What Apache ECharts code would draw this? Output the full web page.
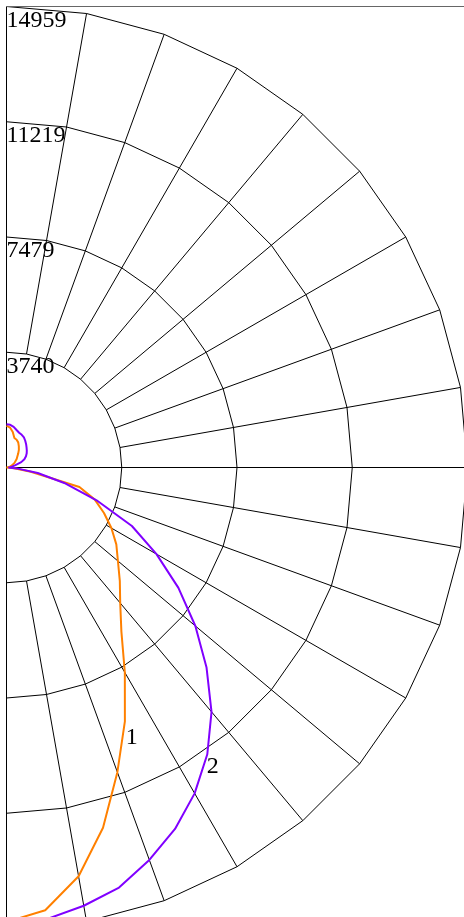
<!DOCTYPE html>
<html><head><meta charset="utf-8">
<script src="https://cdn.jsdelivr.net/npm/echarts@6.0.0/dist/echarts.min.js"></script>
<style>
html,body{margin:0;padding:0;background:#fff;overflow:hidden;width:464px;height:917px}
#c{position:absolute;left:6px;top:0;width:458px;height:917px}
</style>
</head><body><div id="c"></div>
<script>
// gamma angle (0 = downward, 90 = horizontal right, 180 = upward)
const angles = [0,5,10,15,20,25,30,35,40,45,50,55,60,65,70,75,80,85,90,95,100,105,110,115,120,125,130,135,140,145,150,155,160,165,170,175,180];
const series1 = [14750,14420,13470,12100,10520,9090,7680,6500,5740,5200,4720,4350,3930,3490,3050,2450,800,250,0,40,90,130,175,240,300,370,430,480,590,700,800,900,960,990,1170,1300,1360];
const series2 = [14959,14720,14440,14110,13550,12940,12210,11360,10350,9180,8000,6810,5620,4490,3110,1940,1030,330,60,130,200,300,510,640,730,800,860,920,990,1060,1130,1170,1200,1260,1340,1390,1400];
const seriesNames = ['1','2'];
const seriesColors = ['#ff8000','#8000ff'];
const labelRadius = [9660, 11780];
const labelAngle = [24.9, 34.6];
const radiusMax = 14959;
const radiusTickLabels = ['', '3740', '7479', '11219', '14959'];
const spokeStep = 10;

const chart = echarts.init(document.getElementById('c'), null, {renderer:'canvas'});
const CX = 0.5, CY = 467.5, R = 461;
const font = 'Liberation Serif';
const hidden = {axisLine:{show:false}, axisTick:{show:false}, axisLabel:{show:false}, splitLine:{show:false}};

const indicators = [];
for (let i = 0; i < 360 / spokeStep; i++) indicators.push({name:'', min:0, max:radiusMax});

function mkSeries(vals, idx) {
  return {
    type:'line', name: seriesNames[idx], coordinateSystem:'polar', polarIndex:0,
    data: angles.map((a,i)=>[vals[i], a]),
    showSymbol:false, smooth:false, z:3,
    lineStyle:{color:seriesColors[idx], width:2},
    itemStyle:{color:seriesColors[idx]},
    markPoint:{
      symbol:'circle', symbolSize:1,
      itemStyle:{color:'rgba(0,0,0,0)'},
      label:{show:true, position:'inside', formatter:seriesNames[idx], color:'#000', fontSize:24, fontFamily:font},
      data:[{coord:[labelRadius[idx], labelAngle[idx]]}]
    }
  };
}

chart.setOption({
  animation:false,
  textStyle:{fontFamily:font},
  radar:{
    center:[CX, CY], radius:R, startAngle:90, shape:'polygon', splitNumber:4,
    indicator: indicators,
    axisName:{show:false}, axisLine:{show:false}, axisTick:{show:false}, axisLabel:{show:false},
    splitArea:{show:false},
    splitLine:{show:true, lineStyle:{color:'#000', width:1}}
  },
  polar:[
    {center:[CX, CY], radius:[0, R]},
    {center:[CX, CY], radius:[R/4, R]}
  ],
  angleAxis:[
    {polarIndex:0, type:'value', min:-180, max:180, interval:90, startAngle:90, clockwise:false,
     axisLine:{show:false}, axisTick:{show:false}, axisLabel:{show:false},
     splitLine:{show:true, lineStyle:{color:'#000', width:1}}},
    {polarIndex:1, type:'value', min:-180, max:180, interval:spokeStep, startAngle:90, clockwise:false,
     axisLine:{show:false}, axisTick:{show:false}, axisLabel:{show:false},
     splitLine:{show:true, lineStyle:{color:'#000', width:1}}}
  ],
  radiusAxis:[
    {polarIndex:0, type:'value', min:0, max:radiusMax, interval:radiusMax/4,
     axisLine:{show:false}, axisTick:{show:false}, splitLine:{show:false},
     axisLabel:{show:true, margin:0, align:'left', verticalAlign:'top', padding:[2,0,0,0], color:'#000', fontSize:24, fontFamily:font,
       formatter:(v,i)=>radiusTickLabels[i] || ''}},
    Object.assign({polarIndex:1, type:'value', min:0, max:1}, hidden)
  ],
  graphic:[{type:'line', shape:{x1:0, y1:6.5, x2:458, y2:6.5}, style:{stroke:'#666', lineWidth:1}, z:10, silent:true}],
  series:[mkSeries(series1,0), mkSeries(series2,1)]
});
</script>
</body></html>
